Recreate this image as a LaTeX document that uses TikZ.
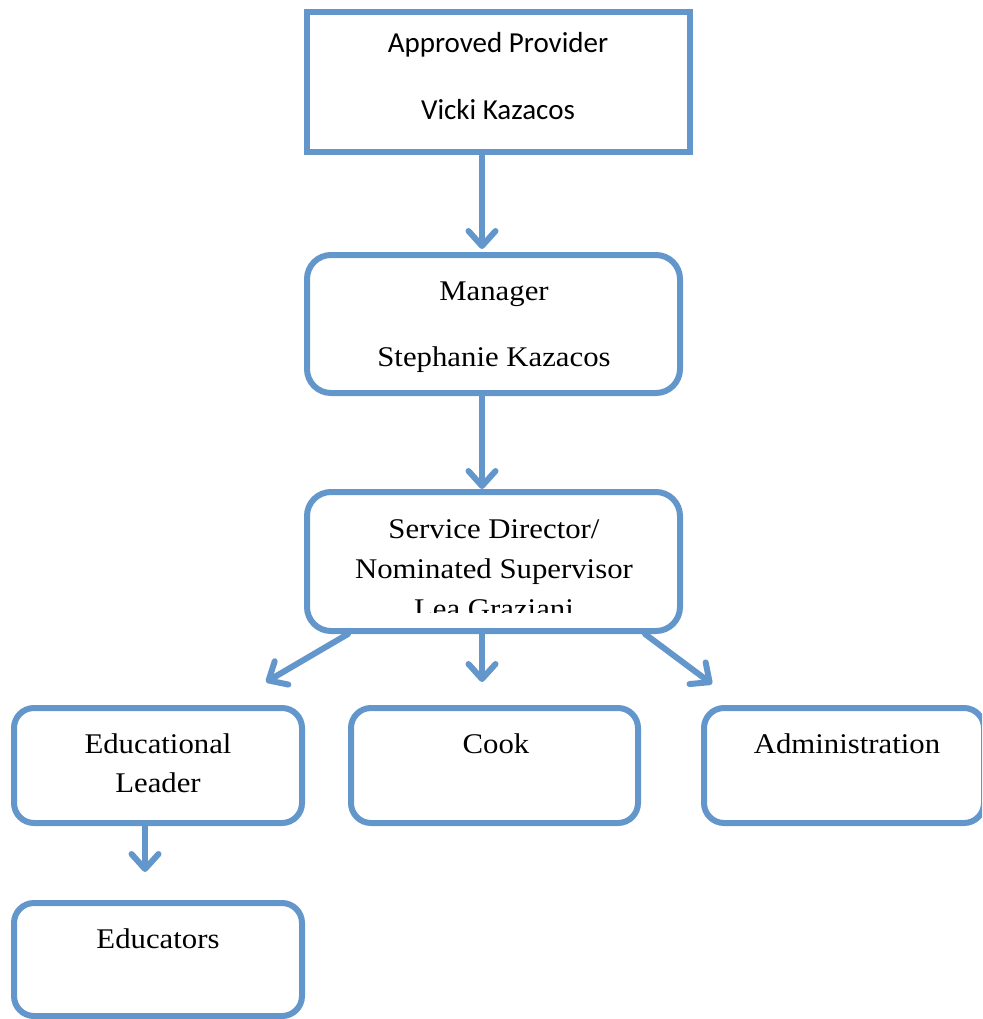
\documentclass[tikz,border=0pt]{standalone}
\usepackage{fontspec}
\setmainfont{Liberation Serif}[FakeStretch=1.08]
\newfontfamily\calib{Carlito}
\usetikzlibrary{arrows.meta}
\definecolor{boxblue}{RGB}{99,150,203}
\begin{document}
\begin{tikzpicture}[x=1pt,y=-1pt,
  box/.style={draw=boxblue, line width=6pt, rounded corners=24pt, inner sep=0pt, outer sep=0pt, anchor=north west},
  sqbox/.style={box, rounded corners=0pt},
  smbox/.style={box, rounded corners=20pt},
  arr/.style={draw=boxblue, line width=6pt, line cap=round,
    -{Straight Barb[length=15pt, width=27pt, line cap=round, line join=round]}},
  serif/.style={anchor=base, inner sep=0pt, font=\fontsize{28.5}{34}\selectfont},
  sans/.style={anchor=base, inner sep=0pt, font=\calib\fontsize{29}{34}\selectfont}]
\useasboundingbox (0,0) rectangle (982,1019);
\clip (0,0) rectangle (982,1019);
% boxes
\node[sqbox, minimum width=383pt, minimum height=140pt] (ap) at (307,12) {};
\node[box, minimum width=373pt, minimum height=138pt] (mgr) at (307,255) {};
\node[box, minimum width=373pt, minimum height=139pt] (sd) at (307,492) {};
\node[smbox, minimum width=288pt, minimum height=115pt] (el) at (14,708) {};
\node[smbox, minimum width=287pt, minimum height=115pt] (cook) at (351,708) {};
\node[smbox, minimum width=280pt, minimum height=115pt] (adm) at (704,708) {};
\node[smbox, minimum width=288pt, minimum height=113pt] (edu) at (14,903) {};
% texts
\node[sans] (t1) at (498,53) {Approved Provider};
\node[sans] (t2) at (498,120) {Vicki Kazacos};
\node[serif] (t3) at (494,300) {Manager};
\node[serif] (t4) at (494,366) {Stephanie Kazacos};
\node[serif] (t5) at (494,538) {Service Director/};
\node[serif] (t6) at (494,578) {Nominated Supervisor};
\begin{scope}
\clip (300,480) rectangle (690,612);
\node[serif] (t7) at (494,618) {Lea Graziani};
\end{scope}
\node[serif] (t8) at (158,753) {Educational};
\node[serif] (t9) at (158,792) {Leader};
\node[serif] (t10) at (496,753) {Cook};
\node[serif] (t11) at (847,753) {Administration};
\node[serif] (t12) at (158,948) {Educators};
% arrow tips
\coordinate (e1) at (482,249);
\coordinate (e2) at (482,489);
\coordinate (e3) at (266,682);
\coordinate (e4) at (482,682);
\coordinate (e5) at (712,684);
\coordinate (e6) at (145,872);
% arrows
\draw[arr] (ap.south -| e1) -- (e1);
\draw[arr] (mgr.south -| e2) -- (e2);
\draw[arr] (sd.south west) ++(41,3) -- (e3);
\draw[arr] (sd.south -| e4) -- (e4);
\draw[arr] (sd.south east) ++(-35,3) -- (e5);
\draw[arr] (el.south -| e6) -- (e6);
\end{tikzpicture}
\end{document}
